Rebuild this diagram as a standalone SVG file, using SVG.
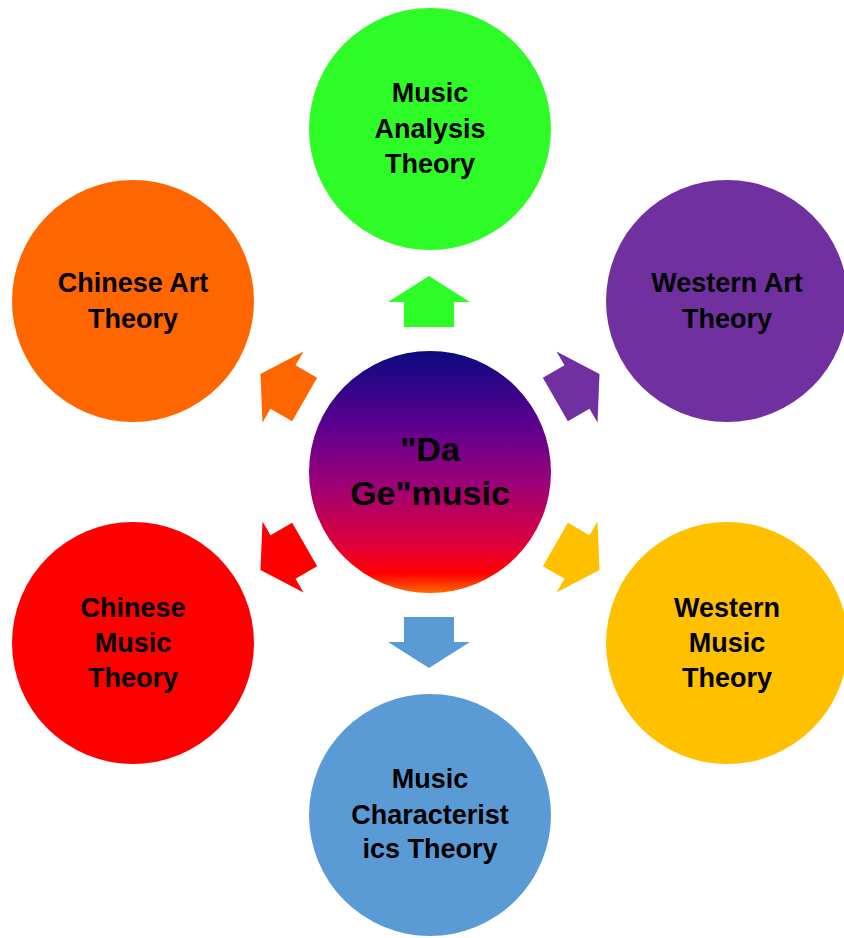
<svg xmlns="http://www.w3.org/2000/svg" width="844" height="938" viewBox="0 0 844 938">
<style>
.t{font-family:"Liberation Sans",Arial,sans-serif;font-weight:bold;font-size:27px;fill:#000;text-anchor:middle}
.c{font-size:34px}
</style>
<defs>
<linearGradient id="g" x1="0" y1="0" x2="0" y2="1">
<stop offset="0" stop-color="#0a0a80"/>
<stop offset="0.3" stop-color="#5a008f"/>
<stop offset="0.55" stop-color="#9c0078"/>
<stop offset="0.8" stop-color="#e0003a"/>
<stop offset="0.92" stop-color="#ff0000"/>
<stop offset="1" stop-color="#ff6a00"/>
</linearGradient>
<polygon id="arr" points="0,-26 41,0 25,0 25,25 -25,25 -25,0 -41,0"/>
</defs>
<rect width="844" height="938" fill="#fff"/>
<g id="connectors">
<use href="#arr" transform="translate(429,302)" fill="#2efc27"/>
<use href="#arr" transform="translate(429,642) rotate(180)" fill="#5b9bd5"/>
<use href="#arr" transform="translate(577,387) rotate(60)" fill="#7030a0"/>
<use href="#arr" transform="translate(283,387) rotate(-60)" fill="#ff6600"/>
<use href="#arr" transform="translate(577,557) rotate(120)" fill="#ffc000"/>
<use href="#arr" transform="translate(283,557) rotate(-120)" fill="#ff0000"/>
</g>
<g id="center">
<circle cx="430" cy="472" r="121" fill="url(#g)"/>
<text class="t c" x="430" y="461">"Da</text>
<text class="t c" x="430" y="505">Ge"music</text>
</g>
<g id="music-analysis">
<circle cx="430" cy="129" r="121" fill="#2efc27"/>
<text class="t" x="430" y="102">Music</text>
<text class="t" x="430" y="138">Analysis</text>
<text class="t" x="430" y="173">Theory</text>
</g>
<g id="western-art">
<circle cx="727" cy="301" r="121" fill="#7030a0"/>
<text class="t" x="727" y="292">Western Art</text>
<text class="t" x="727" y="328">Theory</text>
</g>
<g id="western-music">
<circle cx="727" cy="643" r="121" fill="#ffc000"/>
<text class="t" x="727" y="617">Western</text>
<text class="t" x="727" y="652">Music</text>
<text class="t" x="727" y="687">Theory</text>
</g>
<g id="music-characteristics">
<circle cx="430" cy="815" r="121" fill="#5b9bd5"/>
<text class="t" x="430" y="788">Music</text>
<text class="t" x="430" y="824">Characterist</text>
<text class="t" x="430" y="858">ics Theory</text>
</g>
<g id="chinese-music">
<circle cx="133" cy="643" r="121" fill="#ff0000"/>
<text class="t" x="133" y="617">Chinese</text>
<text class="t" x="133" y="652">Music</text>
<text class="t" x="133" y="687">Theory</text>
</g>
<g id="chinese-art">
<circle cx="133" cy="301" r="121" fill="#ff6600"/>
<text class="t" x="133" y="292">Chinese Art</text>
<text class="t" x="133" y="328">Theory</text>
</g>
</svg>
